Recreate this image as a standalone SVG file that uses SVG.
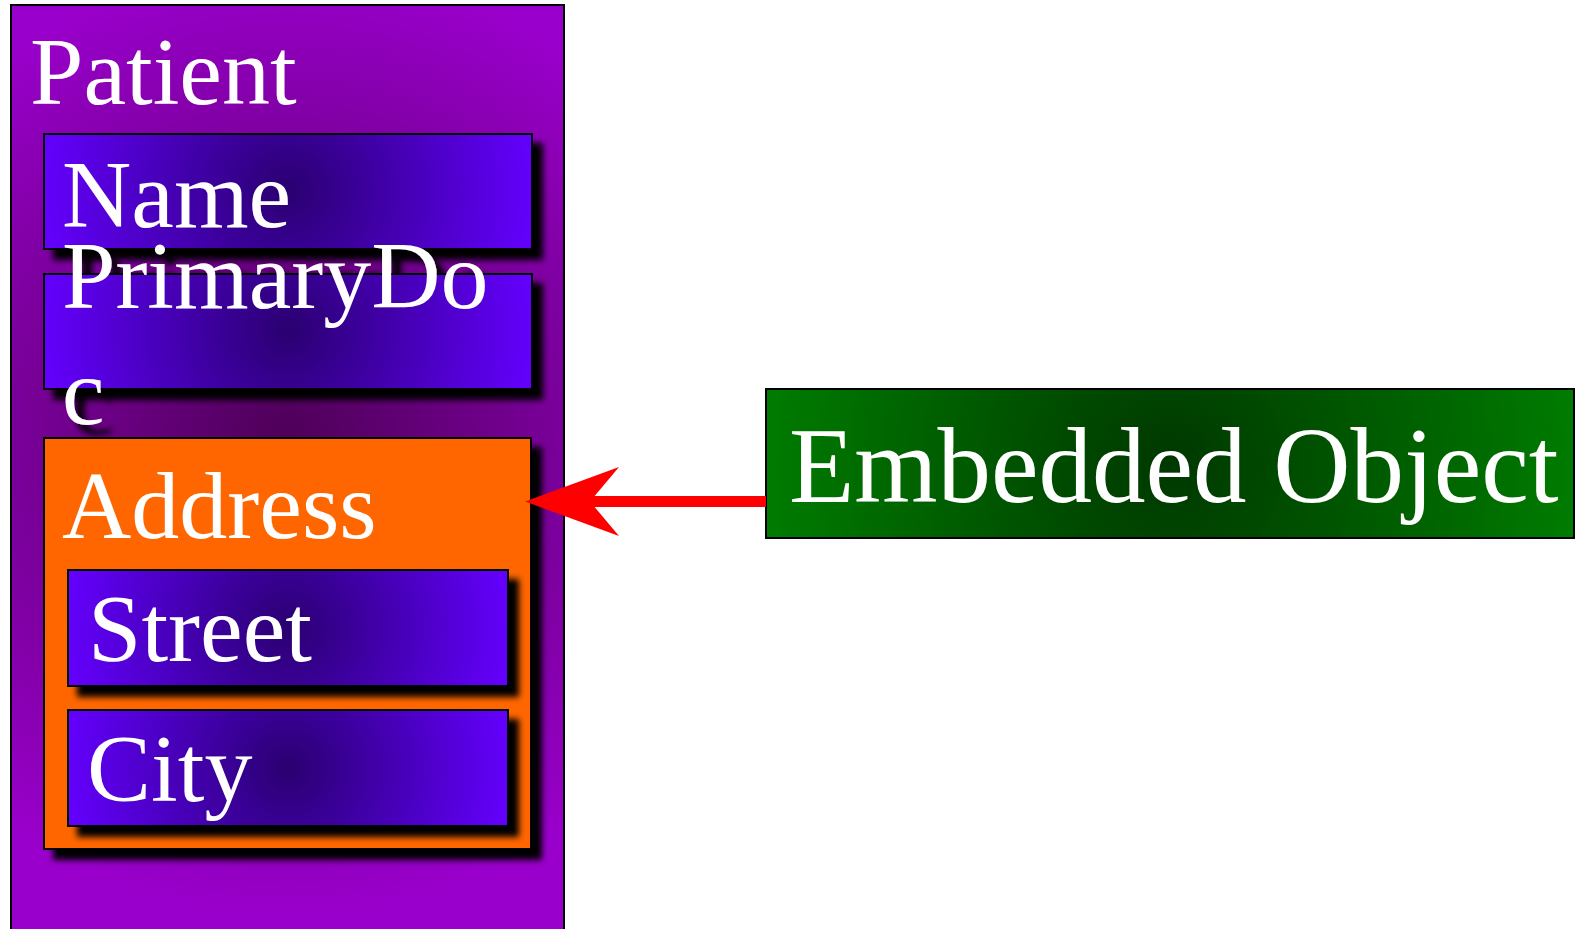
<svg xmlns="http://www.w3.org/2000/svg" xmlns:xlink="http://www.w3.org/1999/xlink" width="1580" height="929" viewBox="0 0 1580 929">
  <style>
    .box { stroke: #000; stroke-width: 2; }
    .lbl { font-family: "Liberation Serif", "Times New Roman", serif; font-size: 96px; fill: #fff; }
    .big { font-size: 107px; }
    .conn { fill: none; stroke: #ff0000; stroke-width: 11; }
  </style>
  <defs>
    <!-- shared colour ramps -->
    <radialGradient id="purple" gradientUnits="userSpaceOnUse" cx="287" cy="440" r="480">
      <stop offset="0" stop-color="#4e0058"/>
      <stop offset="1" stop-color="#9a00cc"/>
    </radialGradient>
    <radialGradient id="blue">
      <stop offset="0" stop-color="#2a0070"/>
      <stop offset="1" stop-color="#6400ff"/>
    </radialGradient>
    <radialGradient id="gName" href="#blue" xlink:href="#blue" gradientUnits="userSpaceOnUse" cx="288" cy="191" r="250"/>
    <radialGradient id="gDoc" href="#blue" xlink:href="#blue" gradientUnits="userSpaceOnUse" cx="288" cy="331" r="250"/>
    <radialGradient id="gStreet" href="#blue" xlink:href="#blue" gradientUnits="userSpaceOnUse" cx="288" cy="628" r="226"/>
    <radialGradient id="gCity" href="#blue" xlink:href="#blue" gradientUnits="userSpaceOnUse" cx="288" cy="768" r="226"/>
    <radialGradient id="green" gradientUnits="userSpaceOnUse" cx="1170" cy="463" r="410">
      <stop offset="0" stop-color="#003800"/>
      <stop offset="1" stop-color="#007c00"/>
    </radialGradient>
    <filter id="shadow" x="-10%" y="-10%" width="130%" height="140%">
      <feDropShadow dx="10" dy="10" stdDeviation="3" flood-color="#000" flood-opacity="1"/>
    </filter>
    <marker id="head" markerUnits="userSpaceOnUse" viewBox="0 0 94 69" markerWidth="94" markerHeight="69" refX="29" refY="34.5" orient="auto">
      <path d="M0,0 L94,34.5 L0,69 L29,34.5 Z" fill="#ff0000"/>
    </marker>
  </defs>

  <!-- outer entity -->
  <g id="patient">
    <rect class="box" x="11" y="5" width="553" height="945" fill="url(#purple)"/>
    <text class="lbl" x="30" y="104">Patient</text>
  </g>

  <g id="name" filter="url(#shadow)">
    <rect class="box" x="44" y="134" width="488" height="115" fill="url(#gName)"/>
    <text class="lbl" x="62" y="227">Name</text>
  </g>

  <g id="primarydoc" filter="url(#shadow)">
    <rect class="box" x="44" y="274" width="488" height="115" fill="url(#gDoc)"/>
    <text class="lbl" x="62" y="308">PrimaryDo</text>
    <text class="lbl" x="62" y="424">c</text>
  </g>

  <g id="address" filter="url(#shadow)">
    <rect class="box" x="44" y="438" width="487" height="411" fill="#ff6600"/>
    <text class="lbl" x="62" y="538">Address</text>
  </g>

  <g id="street" filter="url(#shadow)">
    <rect class="box" x="68" y="570" width="440" height="116" fill="url(#gStreet)"/>
    <text class="lbl" x="88" y="661">Street</text>
  </g>

  <g id="city" filter="url(#shadow)">
    <rect class="box" x="68" y="710" width="440" height="116" fill="url(#gCity)"/>
    <text class="lbl" x="87" y="801">City</text>
  </g>

  <g id="embedded">
    <rect class="box" x="766" y="389" width="808" height="149" fill="url(#green)"/>
    <text class="lbl big" x="789" y="502">Embedded Object</text>
  </g>

  <!-- connectors -->
  <g id="connectors">
    <path class="conn" d="M766,501.5 L590,501.5" marker-end="url(#head)"/>
  </g>
</svg>
